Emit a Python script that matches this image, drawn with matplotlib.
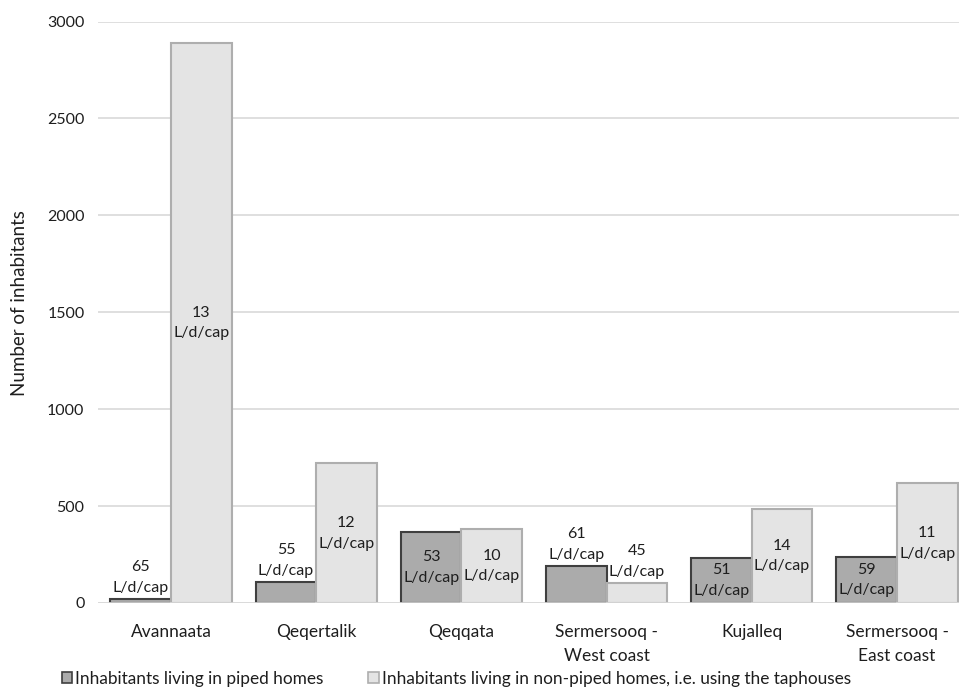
import matplotlib
matplotlib.use("Agg")
import matplotlib.pyplot as plt
import numpy as np
from matplotlib.patches import Patch

plt.rcParams['font.family'] = ['Lato', 'DejaVu Sans']

categories = ["Avannaata", "Qeqertalik", "Qeqqata", "Sermersooq -\nWest coast", "Kujalleq", "Sermersooq -\nEast coast"]
piped = [20, 108, 368, 191, 234, 239]
non_piped = [2890, 720, 383, 103, 485, 617]
piped_lpd = [65, 55, 53, 61, 51, 59]
non_piped_lpd = [13, 12, 10, 45, 14, 11]
series_names = ["Inhabitants living in piped homes",
                "Inhabitants living in non-piped homes, i.e. using the taphouses"]
yticks = [0, 500, 1000, 1500, 2000, 2500, 3000]

piped_fill, piped_edge = "#ababab", "#3f3f3f"
np_fill, np_edge = "#e4e4e4", "#aeaeae"
text_color = "#1e1e1e"

fig = plt.figure(figsize=(9.59, 6.88), dpi=100)
ax = fig.add_axes([98.4/959, (688-603)/688, (969.6-98.4)/959, (603-21.5)/688])

x = np.arange(len(categories))
w = 0.417
b1 = ax.bar(x - w/2, piped, w, color=piped_fill, edgecolor=piped_edge, linewidth=1.5, zorder=3)
b2 = ax.bar(x + w/2, non_piped, w, color=np_fill, edgecolor=np_edge, linewidth=1.5, zorder=3)

ax.set_xlim(-0.5, len(categories) - 0.5)
ax.set_ylim(0, 3000)
ax.set_yticks(yticks)
ax.set_yticklabels([str(t) for t in yticks], fontsize=11.5, color=text_color)
ax.set_xticks(x)
ax.set_xticklabels(categories, fontsize=12.5, color=text_color, linespacing=1.6)
ax.tick_params(axis='both', length=0)
ax.tick_params(axis='x', pad=15)
ax.tick_params(axis='y', pad=10)
ax.yaxis.grid(True, color="#d9d9d9", linewidth=1.2, zorder=0)
for s in ax.spines.values():
    s.set_visible(False)
ax.axhline(0, color="#d9d9d9", linewidth=1.2, zorder=4)

ax.set_ylabel("Number of inhabitants", fontsize=13.5, color=text_color)
ax.yaxis.set_label_coords(-0.081, 0.515)

def label(bars, vals, lpd):
    for rect, v, l in zip(bars, vals, lpd):
        cx = rect.get_x() + rect.get_width()/2
        txt = f"{l}\nL/d/cap"
        if v < 200:
            ax.annotate(txt, (cx, v), xytext=(0, 3), textcoords="offset points",
                        ha="center", va="bottom", fontsize=11.5, color=text_color,
                        linespacing=1.6, zorder=5)
        else:
            ax.text(cx, v/2, txt, ha="center", va="center", fontsize=11.5,
                    color=text_color, linespacing=1.6, zorder=5)

label(b1, piped, piped_lpd)
label(b2, non_piped, non_piped_lpd)

handles = [Patch(facecolor=piped_fill, edgecolor=piped_edge, linewidth=1.2),
           Patch(facecolor=np_fill, edgecolor=np_edge, linewidth=1.2)]
fig.legend(handles, series_names, loc="center", bbox_to_anchor=(0.476, 0.0135),
           ncol=2, frameon=False, fontsize=12.4, handlelength=0.6, handleheight=0.6,
           handletextpad=0.2, columnspacing=2.6, labelcolor=text_color,
           borderpad=0.0)

fig.savefig("out.png", dpi=100)
